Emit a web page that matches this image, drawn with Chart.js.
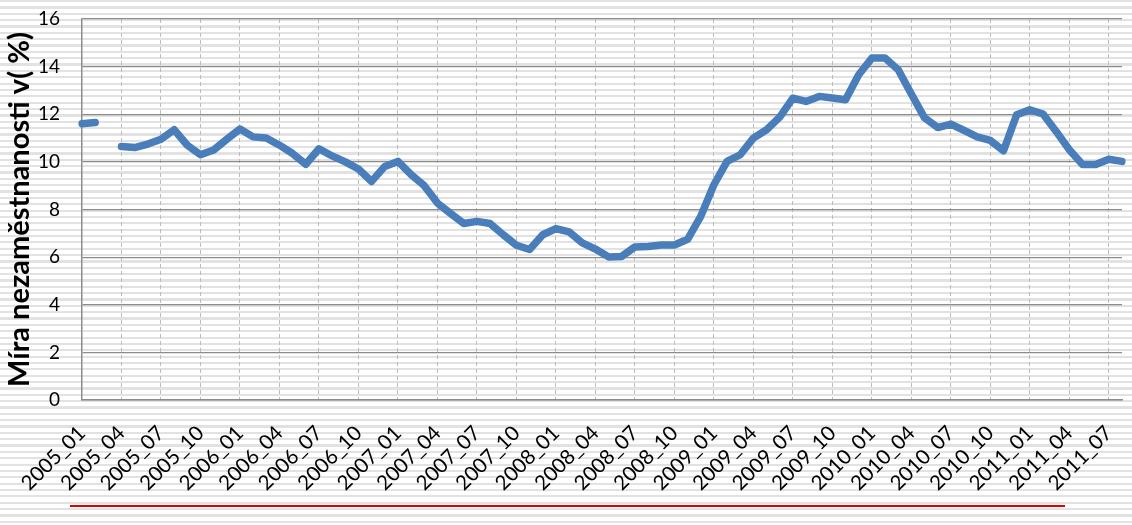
<!DOCTYPE html>
<html>
<head>
<meta charset="utf-8">
<script src="https://cdn.jsdelivr.net/npm/chart.js@4.4.1/dist/chart.umd.min.js"></script>
<style>
  html, body { margin: 0; padding: 0; }
  body {
    width: 1132px; height: 525px; overflow: hidden; position: relative;
    background: repeating-linear-gradient(to bottom, #e2e2e2 0px, #e2e2e2 2.2px, #ffffff 2.2px, #ffffff 6.35px);
  }
  #wrap { position: absolute; left: 0; top: 0; width: 1132px; height: 525px; }
  #redline { position: absolute; left: 70px; top: 505px; width: 995px; height: 2px; background: #e00000; }
</style>
</head>
<body>
<div id="wrap"><canvas id="c" width="1132" height="525"></canvas></div>
<div id="redline"></div>
<script>
const categories = [
  '2005_01','2005_02','2005_03','2005_04','2005_05','2005_06','2005_07','2005_08','2005_09','2005_10','2005_11','2005_12',
  '2006_01','2006_02','2006_03','2006_04','2006_05','2006_06','2006_07','2006_08','2006_09','2006_10','2006_11','2006_12',
  '2007_01','2007_02','2007_03','2007_04','2007_05','2007_06','2007_07','2007_08','2007_09','2007_10','2007_11','2007_12',
  '2008_01','2008_02','2008_03','2008_04','2008_05','2008_06','2008_07','2008_08','2008_09','2008_10','2008_11','2008_12',
  '2009_01','2009_02','2009_03','2009_04','2009_05','2009_06','2009_07','2009_08','2009_09','2009_10','2009_11','2009_12',
  '2010_01','2010_02','2010_03','2010_04','2010_05','2010_06','2010_07','2010_08','2010_09','2010_10','2010_11','2010_12',
  '2011_01','2011_02','2011_03','2011_04','2011_05','2011_06','2011_07','2011_08'
];
const values2005 = [11.6, 11.65, null, 10.65, 10.6, 10.75, 10.95, 11.35, 10.7, 10.3, 10.5, 10.95];
const values2006 = [11.38, 11.05, 11.0, 10.7, 10.35, 9.9, 10.55, 10.25, 10.0, 9.7, 9.18, 9.81];
const values2007 = [10.02, 9.46, 9.0, 8.27, 7.83, 7.41, 7.5, 7.41, 6.94, 6.5, 6.32, 6.94];
const values2008 = [7.2, 7.06, 6.6, 6.34, 6.01, 6.03, 6.43, 6.45, 6.51, 6.51, 6.75, 7.71];
const values2009 = [9.04, 10.02, 10.3, 11.0, 11.35, 11.88, 12.68, 12.54, 12.75, 12.68, 12.61, 13.66];
const values2010 = [14.36, 14.36, 13.87, 12.85, 11.85, 11.44, 11.59, 11.32, 11.05, 10.9, 10.47, 11.98];
const values2011 = [12.19, 12.01, 11.28, 10.51, 9.89, 9.89, 10.11, 10.02];
const unemployment = [].concat(values2005, values2006, values2007, values2008, values2009, values2010, values2011);
const yTitle = 'Míra nezaměstnanosti v( %)';
const yMin = 0, yMax = 16, yStep = 2;
const labelEvery = 3;

const FONT = 'Lato, "Liberation Sans", sans-serif';

new Chart(document.getElementById('c'), {
  type: 'line',
  data: {
    labels: categories,
    datasets: [{
      data: unemployment,
      borderColor: '#4a7ebb',
      backgroundColor: '#4a7ebb',
      borderWidth: 7.5,
      pointRadius: 0,
      tension: 0,
      spanGaps: false,
      borderJoinStyle: 'round',
      borderCapStyle: 'round',
      fill: false
    }]
  },
  options: {
    responsive: false,
    animation: false,
    devicePixelRatio: 1,
    layout: { padding: { top: 19, right: 10, left: 0, bottom: 0 } },
    plugins: { legend: { display: false }, tooltip: { enabled: false } },
    scales: {
      x: {
        type: 'category',
        offset: false,
        grid: {
          drawTicks: false,
          lineWidth: 1,
          color: (ctx) => (ctx.index % labelEvery === 0 && ctx.index > 0) ? '#bcbcbc' : 'rgba(0,0,0,0)'
        },
        border: { display: true, color: '#8c8c8c', width: 1.5, dash: [4, 3] },
        ticks: {
          autoSkip: false,
          minRotation: 45,
          maxRotation: 45,
          padding: 21,
          color: '#000',
          font: { family: FONT, size: 20.5 },
          callback: function (val, idx) { return idx % labelEvery === 0 ? categories[idx] : ''; }
        },
        afterFit: (scale) => { scale.height = 125; scale.paddingLeft = 0; scale.paddingRight = 0; }
      },
      y: {
        min: yMin, max: yMax,
        grid: { drawTicks: false, color: '#8c8c8c', lineWidth: 1.2 },
        border: { display: true, color: '#8c8c8c', width: 1.5 },
        ticks: {
          stepSize: yStep,
          padding: 22,
          color: '#000',
          font: { family: FONT, size: 19 }
        },
        title: {
          display: true,
          text: yTitle,
          color: '#000',
          font: { family: FONT, size: 29, weight: 'bold' },
          padding: { top: 2, bottom: 0 }
        },
        afterFit: (scale) => { scale.width = 82; scale.paddingTop = 0; scale.paddingBottom = 0; }
      }
    }
  }
});
</script>
</body>
</html>
